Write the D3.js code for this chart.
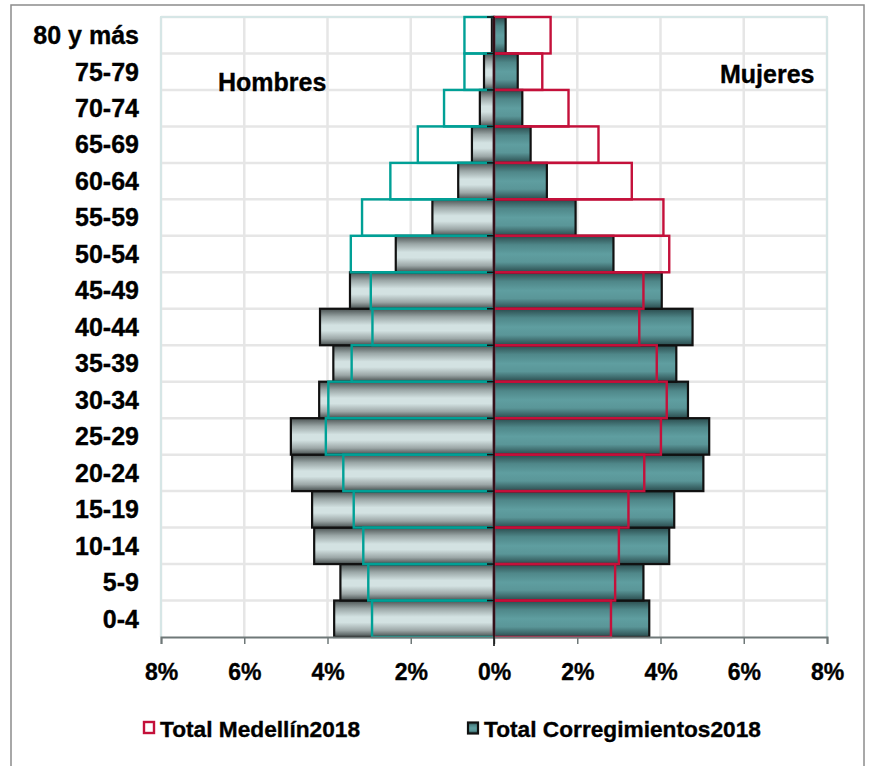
<!DOCTYPE html>
<html>
<head>
<meta charset="utf-8">
<script src="https://cdn.jsdelivr.net/npm/d3@7"></script>
<style>
  html, body { margin: 0; padding: 0; background: #fff; }
  svg { display: block; font-family: "Liberation Sans", Arial, sans-serif; }
  text { stroke: #000; stroke-width: 0.35px; }
</style>
</head>
<body>
<svg id="chart" width="870" height="766"></svg>
<script>
// ---- data (percent of total population) ----
const ageGroups = ["0-4","5-9","10-14","15-19","20-24","25-29","30-34","35-39","40-44","45-49","50-54","55-59","60-64","65-69","70-74","75-79","80 y más"];
const corrMen    = [3.84, 3.69, 4.32, 4.37, 4.85, 4.88, 4.20, 3.86, 4.18, 3.46, 2.36, 1.48, 0.86, 0.53, 0.34, 0.24, 0.05];
const corrWomen  = [3.73, 3.59, 4.21, 4.33, 5.03, 5.17, 4.66, 4.38, 4.77, 4.03, 2.87, 1.96, 1.27, 0.88, 0.68, 0.57, 0.28];
const medMen     = [2.93, 3.02, 3.14, 3.37, 3.62, 4.04, 3.98, 3.42, 2.92, 2.96, 3.44, 3.17, 2.49, 1.83, 1.20, 0.71, 0.71];
const medWomen   = [2.81, 2.91, 3.00, 3.23, 3.61, 4.01, 4.15, 3.91, 3.49, 3.59, 4.21, 4.07, 3.31, 2.51, 1.79, 1.16, 1.36];
const xTicks     = [-8, -6, -4, -2, 0, 2, 4, 6, 8];
const legendLabels = ["Total Medellín2018", "Total Corregimientos2018"];
const sideLabels = ["Hombres", "Mujeres"];

const svg = d3.select("#chart");

// outer frame
svg.append("rect").attr("x", 11).attr("y", 5).attr("width", 853).attr("height", 780)
  .attr("fill", "none").attr("stroke", "#8c8c8c").attr("stroke-width", 1.5);

const x = d3.scaleLinear().domain([-8, 8]).range([161, 827]);
const y = d3.scaleBand().domain(ageGroups.slice().reverse()).range([17, 637]).padding(0);

const defs = svg.append("defs");
function grad(id, stops) {
  const g = defs.append("linearGradient").attr("id", id)
    .attr("x1", 0).attr("y1", 0).attr("x2", 0).attr("y2", 1);
  stops.forEach(s => g.append("stop").attr("offset", s[0]).attr("stop-color", s[1]));
}
grad("gMen", [[0, "#4a5252"], [0.22, "#9aa6a6"], [0.45, "#d3e2e2"], [0.6, "#d3e2e2"], [0.82, "#9ca7a7"], [1, "#454d4d"]]);
grad("gWomen", [[0, "#2a4b4d"], [0.25, "#4f8789"], [0.5, "#5f9ea0"], [0.72, "#5a9698"], [1, "#2a4b4d"]]);

// gridlines
const grid = svg.append("g");
xTicks.forEach(t => {
  grid.append("line").attr("x1", x(t)).attr("x2", x(t)).attr("y1", 17).attr("y2", 637)
    .attr("stroke", "#e6e6e6").attr("stroke-width", 2.5);
});
ageGroups.forEach(a => {
  grid.append("line").attr("x1", x(-8)).attr("x2", x(8)).attr("y1", y(a)).attr("y2", y(a))
    .attr("stroke", "#e6e6e6").attr("stroke-width", 2.5);
});
// plot border (left, top, right)
svg.append("path")
  .attr("d", `M${x(-8)},637 V17 H${x(8)} V637`)
  .attr("fill", "none").attr("stroke", "#d6e6e6").attr("stroke-width", 2);

const h = y.bandwidth();
// Corregimientos bars
svg.append("g").selectAll("rect").data(ageGroups).join("rect")
  .attr("x", (d, i) => x(-corrMen[i])).attr("y", d => y(d))
  .attr("width", (d, i) => x(0) - x(-corrMen[i])).attr("height", h)
  .attr("fill", "url(#gMen)").attr("stroke", "#111").attr("stroke-width", 2.2);
svg.append("g").selectAll("rect").data(ageGroups).join("rect")
  .attr("x", x(0)).attr("y", d => y(d))
  .attr("width", (d, i) => x(corrWomen[i]) - x(0)).attr("height", h)
  .attr("fill", "url(#gWomen)").attr("stroke", "#111").attr("stroke-width", 2.2);

// Medellín outlines
svg.append("g").selectAll("rect").data(ageGroups).join("rect")
  .attr("x", (d, i) => x(-medMen[i])).attr("y", d => y(d))
  .attr("width", (d, i) => x(0) - x(-medMen[i])).attr("height", h)
  .attr("fill", "none").attr("stroke", "#00a096").attr("stroke-width", 2.4);
svg.append("g").selectAll("rect").data(ageGroups).join("rect")
  .attr("x", x(0)).attr("y", d => y(d))
  .attr("width", (d, i) => x(medWomen[i]) - x(0)).attr("height", h)
  .attr("fill", "none").attr("stroke", "#c4103a").attr("stroke-width", 2.4);

// x axis
const xAxis = svg.append("g").attr("transform", "translate(0,637)")
  .call(d3.axisBottom(x).tickValues(xTicks).tickSize(7).tickFormat(d => Math.abs(d) + "%"));
xAxis.select(".domain").attr("stroke", "#6f7878").attr("stroke-width", 2);
xAxis.selectAll(".tick line").attr("stroke", "#6f7878").attr("stroke-width", 1.5);
xAxis.selectAll(".tick text").attr("font-size", 23).attr("font-weight", "bold")
  .attr("fill", "#000").attr("font-family", "Liberation Sans, Arial, sans-serif").attr("dy", 0).attr("y", 43);

// central vertical axis with ticks
svg.append("line").attr("x1", x(0)).attr("x2", x(0)).attr("y1", 17).attr("y2", 646)
  .attr("stroke", "#111").attr("stroke-width", 1.6);
ageGroups.forEach(a => {
  svg.append("line").attr("x1", x(0) - 7).attr("x2", x(0)).attr("y1", y(a)).attr("y2", y(a))
    .attr("stroke", "#111").attr("stroke-width", 1.6);
});

// y labels
svg.append("g").selectAll("text").data(ageGroups).join("text")
  .attr("x", 139).attr("y", d => y(d) + h / 2 + 8.8)
  .attr("text-anchor", "end").attr("font-size", 25).attr("font-weight", "bold").attr("fill", "#000")
  .text(d => d);

// side labels
svg.append("text").attr("x", 218).attr("y", 91).attr("font-size", 25).attr("font-weight", "bold").text(sideLabels[0]);
svg.append("text").attr("x", 720).attr("y", 83).attr("font-size", 25).attr("font-weight", "bold").text(sideLabels[1]);

// legend
const lg = svg.append("g");
lg.append("rect").attr("x", 144).attr("y", 722).attr("width", 10).attr("height", 11)
  .attr("fill", "#fff").attr("stroke", "#c4103a").attr("stroke-width", 2.4);
lg.append("text").attr("x", 160).attr("y", 737).attr("font-size", 22.7).attr("font-weight", "bold").text(legendLabels[0]);
lg.append("rect").attr("x", 468).attr("y", 722.5).attr("width", 10).attr("height", 11)
  .attr("fill", "url(#gWomen)").attr("stroke", "#111").attr("stroke-width", 2.2);
lg.append("text").attr("x", 484).attr("y", 737).attr("font-size", 22.7).attr("font-weight", "bold").text(legendLabels[1]);
</script>
</body>
</html>
